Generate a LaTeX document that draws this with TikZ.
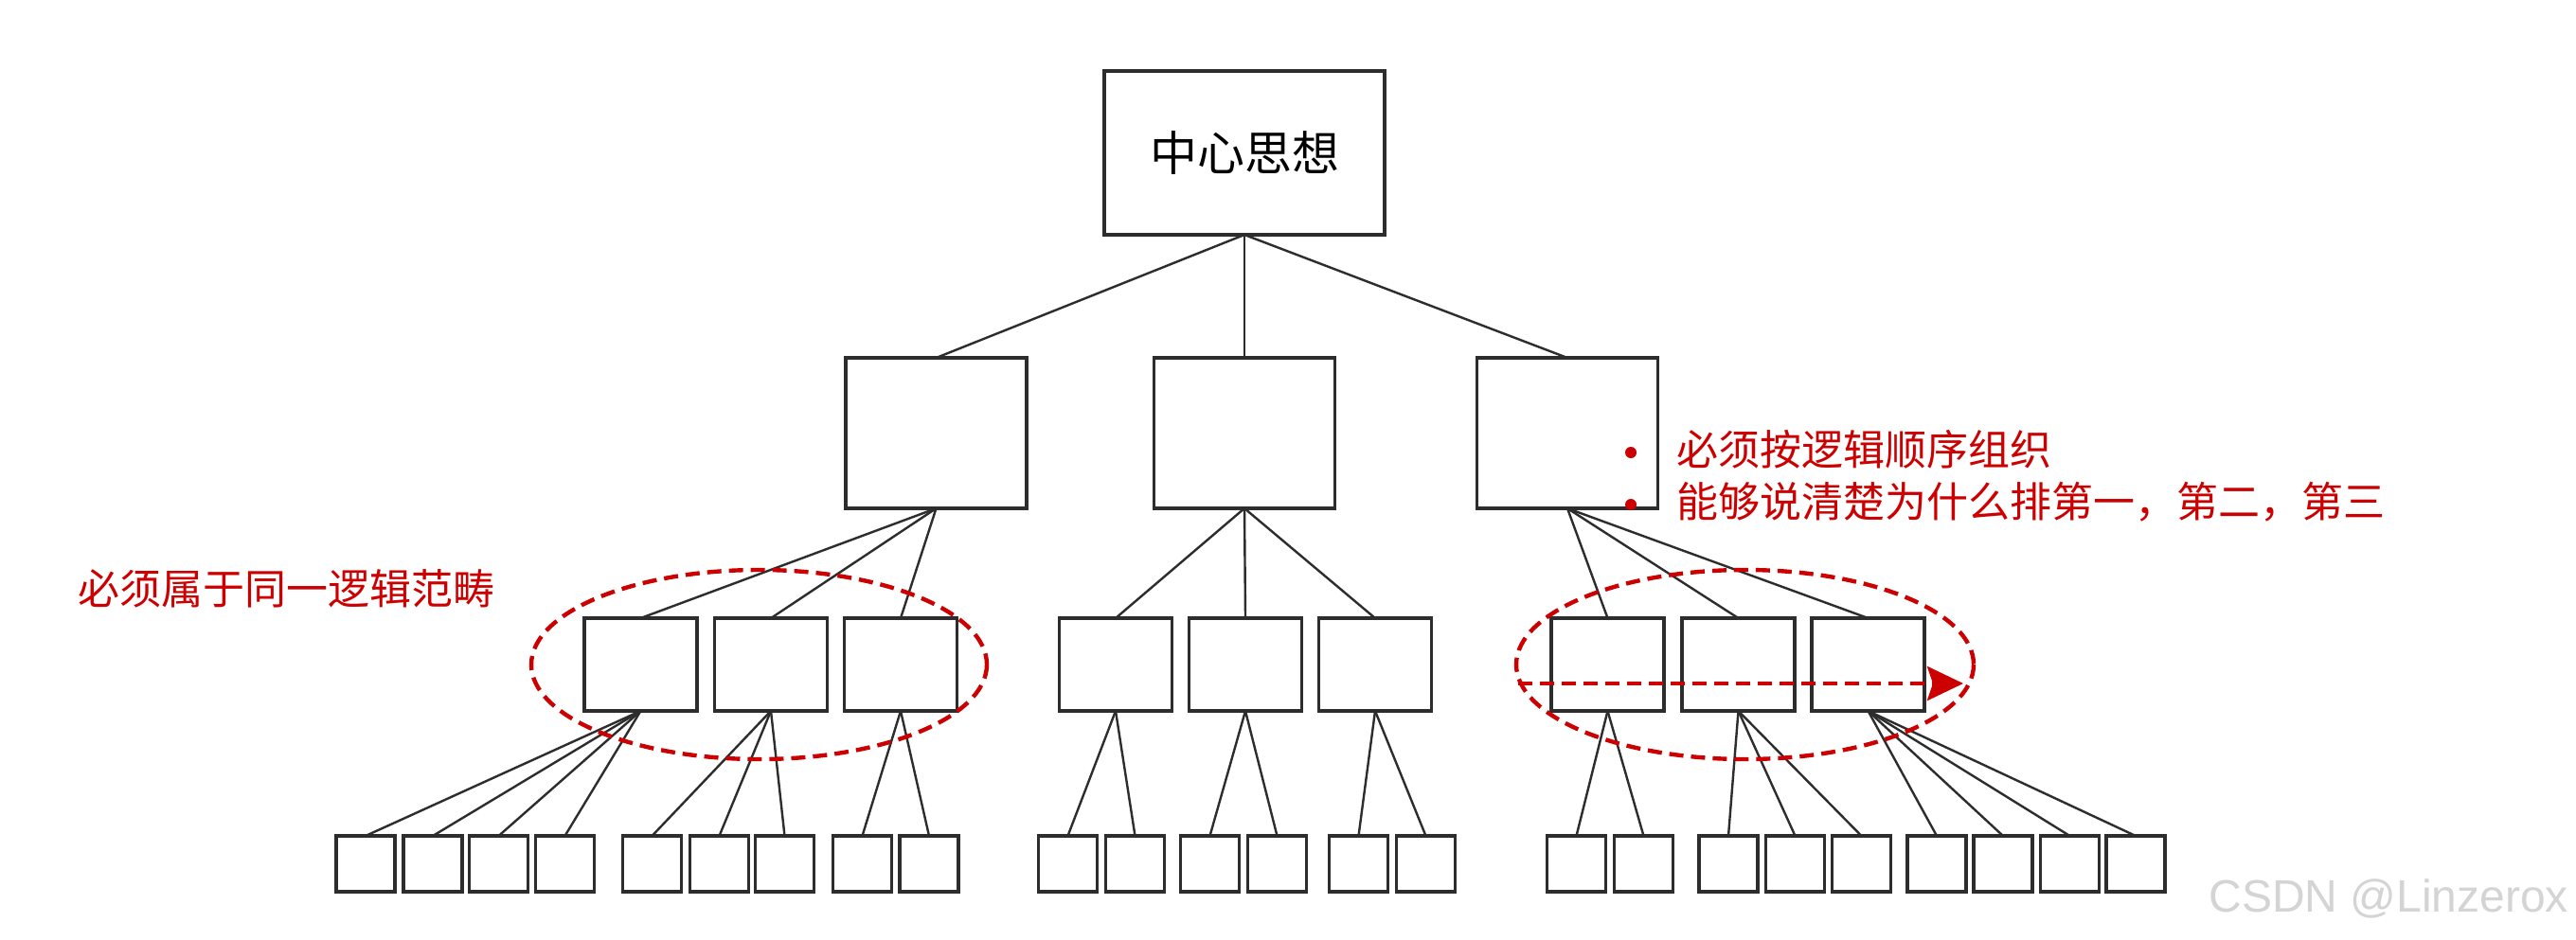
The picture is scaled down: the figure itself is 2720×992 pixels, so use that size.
\documentclass[tikz,border=0pt]{standalone}
\usepackage{fontspec}
\setmainfont{Liberation Sans}
\newfontfamily\cjk{Noto Sans CJK SC}
\usetikzlibrary{arrows.meta}
\definecolor{ered}{RGB}{204,0,0}
\definecolor{eline}{RGB}{45,45,45}
\definecolor{wmark}{RGB}{212,212,212}
\begin{document}
\begin{tikzpicture}[x=0.5pt,y=-0.5pt,
  box/.style={draw=eline, line width=1.6pt, fill=white, inner sep=0pt, outer sep=0pt},
  topbox/.style={box, minimum width=148pt, minimum height=86.5pt},
  midbox/.style={box, minimum width=95.5pt, minimum height=79.5pt},
  lowbox/.style={box, minimum width=59.5pt, minimum height=49pt},
  leafbox/.style={box, minimum width=31pt, minimum height=29.5pt},
  link/.style={draw=eline, line width=1.2pt},
  note/.style={text=ered, inner sep=0pt, anchor=west, font=\cjk\fontsize{22pt}{26pt}\selectfont},
  groupline/.style={draw=ered, line width=2.2pt, dash pattern=on 7.5pt off 4pt},
  bullet/.style={circle, fill=ered, minimum size=6pt, inner sep=0pt},
]
\useasboundingbox (0,0) rectangle (2720,992);
\fill[white] (0,0) rectangle (2720,992);

% top
\node[topbox] (T) at (1314,161.5) {\cjk\fontsize{25pt}{30pt}\selectfont 中心思想};
% level 2
\node[midbox] (A) at (988.5,457.5) {};
\node[midbox] (B) at (1314,457.5) {};
\node[midbox] (C) at (1655,457.5) {};
\foreach \n in {A,B,C} \draw[link] (T.south) -- (\n.north);
% level 3
\foreach \p/\n/\x in {A/A1/676.5, A/A2/814, A/A3/951,
                       B/B1/1178, B/B2/1315, B/B3/1452,
                       C/C1/1697.5, C/C2/1835.5, C/C3/1972.5} {
  \node[lowbox] (\n) at (\x,702) {};
  \draw[link] (\p.south) -- (\n.north);
}
% leaves
\foreach \p/\xs in {A1/{386,457,526.5,596.5}, A2/{688.5,759.5,828.5}, A3/{910.5,981},
                    B1/{1127.5,1198.5}, B2/{1277.5,1348.5}, B3/{1434.5,1505.5},
                    C1/{1664.5,1735.5}, C2/{1825,1895.5,1965.5}, C3/{2045,2115,2185.5,2255}} {
  \foreach \x [count=\i] in \xs {
    \node[leafbox] (\p-\i) at (\x,912.5) {};
    \draw[link] (\p.south) -- (\p-\i.north);
  }
}

% groups
\draw[groupline] (801.5,702) ellipse [x radius=240.5, y radius=100];
\draw[groupline] (1842.5,702) ellipse [x radius=241.5, y radius=100];
\coordinate (arrs) at (1603,722);
\coordinate (arre) at (2073,722);
\draw[groupline, -{Stealth[length=19pt,width=18pt,inset=3pt]}] (arrs) -- (arre);

% notes
\node[note] (n1) at (82,622) {必须属于同一逻辑范畴};
\node[bullet] (b1) at (1722,478) {};
\node[bullet] (b2) at (1722,533) {};
\node[note] (n2) at (1770,474.5) {必须按逻辑顺序组织};
\node[note] (n3) at (1770,530) {能够说清楚为什么排第一，第二，第三};

% watermark
\node[anchor=base west, inner sep=0pt, text=wmark, font=\fontsize{24pt}{28pt}\selectfont] (wm) at (2332,963) {CSDN @Linzerox};
\end{tikzpicture}
\end{document}
